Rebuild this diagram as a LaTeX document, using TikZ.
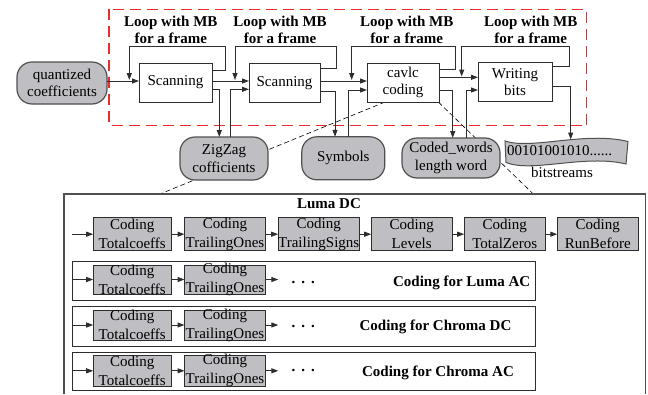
\documentclass[tikz,border=0pt]{standalone}
\usepackage{fontspec}
\setmainfont{Liberation Serif}
\usetikzlibrary{arrows.meta}
\definecolor{boxgray}{RGB}{190,190,195}
\definecolor{inkgray}{RGB}{45,45,45}
\definecolor{rimgray}{RGB}{80,80,80}
\definecolor{loopred}{RGB}{232,45,45}
\pgfdeclarelayer{under}
\pgfsetlayers{under,main}
\begin{document}
\begin{tikzpicture}[x=1pt, y=-1pt,
  every node/.style={inner sep=0pt, outer sep=0pt},
  txt/.style={font=\fontsize{15}{17.5}\selectfont, align=center},
  stage/.style={txt, draw=inkgray, fill=white, line width=1pt, minimum height=39pt},
  blob/.style={txt, draw=rimgray, fill=boxgray, line width=1.2pt, rounded corners=15pt},
  cbox/.style={draw=inkgray, fill=boxgray, line width=0.9pt},
  ctext/.style={font=\fontsize{15}{19}\selectfont, align=center, inner sep=0pt},
  rowframe/.style={draw=inkgray, line width=1pt, minimum width=462.3pt},
  lbl/.style={font=\bfseries\fontsize{15}{17.3}\selectfont, align=center},
  dots/.style={font=\bfseries\fontsize{15}{15}\selectfont},
  flow/.style={draw=inkgray, line width=1pt, -{Triangle[length=7pt,width=5pt]}},
  hint/.style={draw=black, line width=0.6pt, dash pattern=on 5pt off 3pt},
  redframe/.style={draw=loopred, line width=1.3pt, dash pattern=on 11pt off 6pt},
  outline/.style={draw=rimgray, line width=1.2pt},
  tape/.style={draw=rimgray, fill=boxgray, line width=1pt}]
\useasboundingbox (0,0) rectangle (648,394);

% ---------------- encoder pipeline ----------------
\node[blob, minimum width=90pt, minimum height=42pt] (quant) at (62,83) {quantized\\coefficients};
\node[stage, minimum width=73pt] (scan1) at (175.5,82.5) {Scanning};
\node[stage, minimum width=71pt] (scan2) at (284.5,82.7) {Scanning};
\node[stage, minimum width=72pt] (cavlc) at (403,82.5) {cavlc\\coding};
\node[stage, minimum width=74pt] (wbits) at (515,82.3) {Writing\\bits};

\node[lbl] (loop1) at (170.8,30) {Loop with MB\\for a frame};
\node[lbl] (loop2) at (280,30) {Loop with MB\\for a frame};
\node[lbl] (loop3) at (406.7,30) {Loop with MB\\for a frame};
\node[lbl] (loop4) at (530.7,30) {Loop with MB\\for a frame};

\node[blob, minimum width=88pt, minimum height=43pt] (zz) at (224,158.5) {ZigZag\\cofficients};
\node[blob, minimum width=83pt, minimum height=43pt] (sym) at (343.3,158.3) {Symbols};
\node[blob, minimum width=98pt, minimum height=40pt] (cw) at (451,158) {Coded\_words\\length word};

% output bit tape
\path[tape] (505,141) .. controls (532,150) and (585,131) .. (628,141.5)
  -- (626,164) .. controls (585,154) and (532,173) .. (506,162.5) -- cycle;
\node[txt, anchor=west] (bits) at (507,151) {00101001010......};
\node[txt] (bitcap) at (562,172) {bitstreams};
\coordinate (tapetop) at (570.7,139.5);

% main data path
\draw[flow] (quant.east |- 0,81) -- (scan1.west |- 0,81);
\draw[flow] (scan1.east |- 0,81) -- (scan2.west |- 0,81);
\draw[flow] (scan2.east |- 0,81) -- (cavlc.west |- 0,81);
\draw[flow] (cavlc.east |- 0,77.3) -- (wbits.west |- 0,77.3);
\draw[flow] (wbits.east |- 0,86) -- (570.7,86) -- (tapetop);

% per-macroblock loops
\draw[flow] (scan1.east |- 0,70.7) -- (225.7,70.7) -- (225.7,46.7) -- (129.3,46.7) -- (129.3,80);
\draw[flow] (scan2.east |- 0,68.3) -- (336.7,68.3) -- (336.7,46.7) -- (235,46.7) -- (235,80);
\draw[flow] (cavlc.east |- 0,69.3) -- (455,69.3) -- (455,46.7) -- (351.7,46.7) -- (351.7,80);
\draw[flow] (wbits.east |- 0,66.7) -- (569.3,66.7) -- (569.3,46.7) -- (461.7,46.7) -- (461.7,76.5);

% side buffers
\draw[flow] (scan1.east |- 0,89.3) -- (219.3,89.3) -- (219.3,0 |- zz.north);
\draw[flow] (zz.north -| 230,0) -- (230,89.3) -- (scan2.west |- 0,89.3);
\draw[flow] (scan2.east |- 0,91) -- (335,91) -- (335,0 |- sym.north);
\draw[flow] (sym.north -| 348.3,0) -- (348.3,90) -- (cavlc.west |- 0,90);
\draw[flow] (cavlc.east |- 0,90.7) -- (452.7,90.7) -- (452.7,0 |- cw.north);
\draw[flow] (cw.north -| 466.7,0) -- (466.7,90) -- (wbits.west |- 0,90);

% ---------------- detail of the cavlc stage ----------------
\coordinate (zoomL) at (160,194);
\coordinate (zoomR) at (533.3,194);
\begin{pgfonlayer}{under}
  \draw[redframe] (109,9.3) rectangle (586.7,125.7);
  \draw[hint] ([xshift=18pt]cavlc.south west) -- (zoomL);
  \draw[hint] ([xshift=-0.7pt]cavlc.south east) -- (zoomR);
\end{pgfonlayer}
\draw[outline] (64,394) -- (64,194) -- (645.3,194) -- (645.3,394);

\node[lbl] (lumadc) at (329,204) {Luma DC};

% Luma DC chain
\node[cbox, minimum width=78pt, minimum height=33pt, label={[ctext]center:{Coding\\Totalcoeffs}}] (r1a) at (132.2,234.2) {};
\node[cbox, minimum width=81pt, minimum height=33pt, label={[ctext]center:{Coding\\TrailingOnes}}] (r1b) at (225,234.2) {};
\node[cbox, minimum width=81pt, minimum height=33pt, label={[ctext]center:{Coding\\TrailingSigns}}] (r1c) at (318.7,234.2) {};
\node[cbox, minimum width=81pt, minimum height=33pt, label={[ctext]center:{Coding\\Levels}}] (r1d) at (411.7,234.2) {};
\node[cbox, minimum width=81pt, minimum height=33pt, label={[ctext]center:{Coding\\TotalZeros}}] (r1e) at (504.7,234.2) {};
\node[cbox, minimum width=81pt, minimum height=33pt, label={[ctext]center:{Coding\\RunBefore}}] (r1f) at (597.8,234.2) {};
\coordinate (r1in) at (71.7,234.2);
\draw[flow] (r1in) -- (r1a.west);
\draw[flow] (r1a.east) -- (r1b.west);
\draw[flow] (r1b.east) -- (r1c.west);
\draw[flow] (r1c.east) -- (r1d.west);
\draw[flow] (r1d.east) -- (r1e.west);
\draw[flow] (r1e.east) -- (r1f.west);

% Luma AC
\node[rowframe, minimum height=38.3pt] (f2) at (303.85,280.85) {};
\node[cbox, minimum width=78pt, minimum height=29pt, label={[ctext]center:{Coding\\Totalcoeffs}}] (r2a) at (132.2,279.5) {};
\node[cbox, minimum width=81pt, minimum height=29pt, label={[ctext]center:{Coding\\TrailingOnes}}] (r2b) at (225,279.5) {};
\coordinate (d2) at (278.3,279.5);
\draw[flow] (f2.west |- r2a.west) -- (r2a.west);
\draw[flow] (r2a.east) -- (r2b.west);
\draw[flow] (r2b.east) -- (d2);
\node[dots] (dots2) at (303.3,282.5) {.\hspace{6pt}.\hspace{6pt}.};
\node[lbl] (t2) at (461.7,283.3) {Coding for Luma AC};

% Chroma DC
\node[rowframe, minimum height=40pt] (f3) at (303.85,326.7) {};
\node[cbox, minimum width=78pt, minimum height=30pt, label={[ctext]center:{Coding\\Totalcoeffs}}] (r3a) at (132.2,325) {};
\node[cbox, minimum width=81pt, minimum height=30pt, label={[ctext]center:{Coding\\TrailingOnes}}] (r3b) at (225,325) {};
\coordinate (d3) at (278.3,325);
\draw[flow] (f3.west |- r3a.west) -- (r3a.west);
\draw[flow] (r3a.east) -- (r3b.west);
\draw[flow] (r3b.east) -- (d3);
\node[dots] (dots3) at (303.3,326.5) {.\hspace{6pt}.\hspace{6pt}.};
\node[lbl] (t3) at (435.5,326.7) {Coding for Chroma DC};

% Chroma AC
\node[rowframe, minimum height=37.3pt] (f4) at (303.85,371.35) {};
\node[cbox, minimum width=78pt, minimum height=31.7pt, label={[ctext]center:{Coding\\Totalcoeffs}}] (r4a) at (132.2,370.8) {};
\node[cbox, minimum width=81pt, minimum height=31.7pt, label={[ctext]center:{Coding\\TrailingOnes}}] (r4b) at (225,370.8) {};
\coordinate (d4) at (278.3,370.8);
\draw[flow] (f4.west |- r4a.west) -- (r4a.west);
\draw[flow] (r4a.east) -- (r4b.west);
\draw[flow] (r4b.east) -- (d4);
\node[dots] (dots4) at (303.3,370.5) {.\hspace{6pt}.\hspace{6pt}.};
\node[lbl] (t4) at (438,373.3) {Coding for Chroma AC};
\end{tikzpicture}
\end{document}
